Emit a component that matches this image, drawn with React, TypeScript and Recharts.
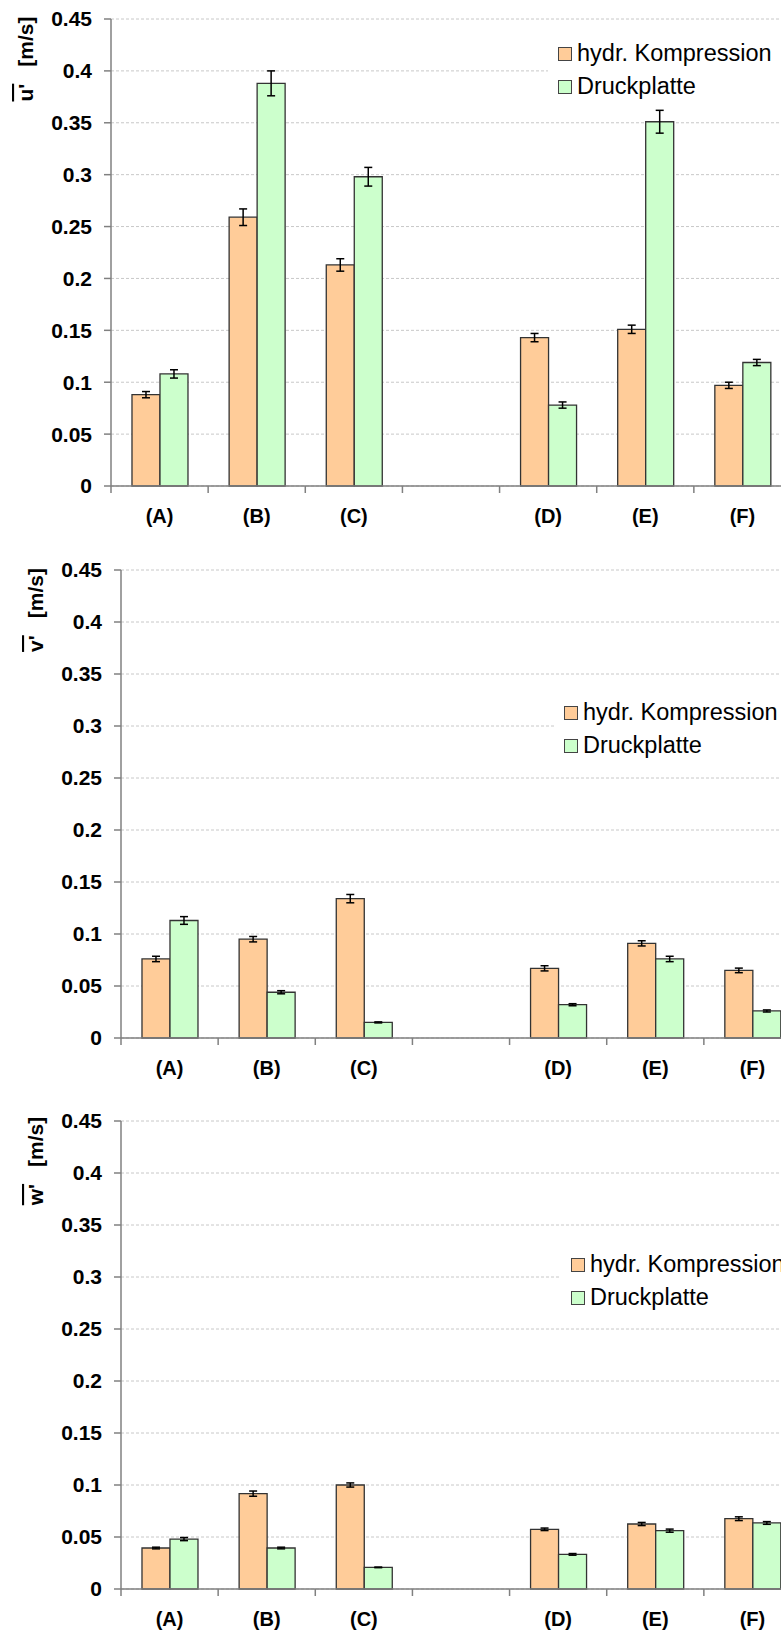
import React from 'react';
import { BarChart, Bar, XAxis, YAxis, CartesianGrid, ErrorBar, Legend } from 'recharts';

const categories = ['(A)', '(B)', '(C)', '', '(D)', '(E)', '(F)'];
const seriesNames = ['hydr. Kompression', 'Druckplatte'];
const seriesColors = ['#FFCC99', '#CCFFCC'];
const yTicks = [0, 0.05, 0.1, 0.15, 0.2, 0.25, 0.3, 0.35, 0.4, 0.45];

// u'
const uHydr = [0.088, 0.259, 0.213, null, 0.143, 0.151, 0.097];
const uHydrErr = [0.003, 0.008, 0.006, null, 0.004, 0.004, 0.003];
const uDruck = [0.108, 0.388, 0.298, null, 0.078, 0.351, 0.119];
const uDruckErr = [0.004, 0.012, 0.009, null, 0.003, 0.011, 0.003];
// v'
const vHydr = [0.076, 0.095, 0.134, null, 0.067, 0.091, 0.065];
const vHydrErr = [0.0026, 0.0026, 0.004, null, 0.0025, 0.0025, 0.0022];
const vDruck = [0.113, 0.044, 0.015, null, 0.032, 0.076, 0.026];
const vDruckErr = [0.0037, 0.0015, 0.0005, null, 0.001, 0.0026, 0.001];
// w'
const wHydr = [0.0394, 0.0917, 0.1, null, 0.0574, 0.0625, 0.0676];
const wHydrErr = [0.0008, 0.0025, 0.002, null, 0.0012, 0.0015, 0.0018];
const wDruck = [0.048, 0.0394, 0.0208, null, 0.0333, 0.0561, 0.0635];
const wDruckErr = [0.0015, 0.0008, 0.0003, null, 0.0008, 0.0015, 0.0013];

const FONT = "'Liberation Sans', Arial, sans-serif";
const AXIS = '#808080';

function XTick(props: any) {
  const { x, y, payload, band } = props;
  const bx = x - band / 2;
  return (
    <g>
      <line x1={bx} x2={bx} y1={y} y2={y + 7} stroke={AXIS} strokeWidth={1.5} />
      <text x={x} y={y + 37} textAnchor="middle" fontFamily={FONT} fontWeight="bold" fontSize={20} fill="#000">
        {payload.value}
      </text>
    </g>
  );
}

function YLabel({ viewBox, sym }: any) {
  if (!viewBox) return null;
  const cx = viewBox.x + viewBox.width - 78;
  const cy = viewBox.y + 40;
  return (
    <text x={cx} y={cy} transform={`rotate(-90 ${cx} ${cy})`} textAnchor="middle"
      fontFamily={FONT} fontWeight="bold" fontSize={21} fill="#000">
      <tspan style={{ textDecoration: 'overline' }}>{sym}</tspan>
      <tspan dx={17}>[m/s]</tspan>
    </text>
  );
}

function LegendBox() {
  return (
    <div style={{ background: '#fff', padding: '4px 0 4px 10px', fontFamily: FONT, fontSize: 23.5, color: '#000' }}>
      {seriesNames.map((n, i) => (
        <div key={n} style={{ display: 'flex', alignItems: 'center', height: 33, whiteSpace: 'nowrap' }}>
          <span style={{ display: 'inline-block', flex: 'none', width: 12, height: 12, background: seriesColors[i], border: '1.5px solid #444', marginRight: 5 }} />
          {n}
        </div>
      ))}
    </div>
  );
}

interface PanelProps {
  top: number; height: number; marginTop: number; axisWidth: number; xAxisHeight: number;
  hydr: (number | null)[]; hydrErr: (number | null)[]; druck: (number | null)[]; druckErr: (number | null)[];
  sym: string; legendLeft: number; legendTop: number;
}

function Panel(p: PanelProps) {
  const width = p.axisWidth + 680;
  const band = (width - p.axisWidth) / categories.length;
  const data = categories.map((c, i) => ({
    cat: c, hydr: p.hydr[i], hydrErr: p.hydrErr[i], druck: p.druck[i], druckErr: p.druckErr[i],
  }));
  return (
    <div style={{ position: 'absolute', left: 0, top: p.top }}>
      <BarChart width={width} height={p.height} data={data} barCategoryGap="21.6%" barGap={0}
        margin={{ top: p.marginTop, right: 0, bottom: 0, left: 0 }}>
        <CartesianGrid vertical={false} stroke="#c8c8c8" strokeDasharray="3 2" />
        <XAxis dataKey="cat" height={p.xAxisHeight} interval={0} tickSize={0} tickMargin={0} tickLine={false}
          axisLine={{ stroke: AXIS, strokeWidth: 1.5 }} tick={(t: any) => <XTick {...t} band={band} />} />
        <YAxis domain={[0, 0.45]} ticks={yTicks} width={p.axisWidth} tickSize={7} tickMargin={12}
          tickFormatter={(v: number) => String(v)}
          tick={{ fill: '#000', fontSize: 21, fontWeight: 'bold', fontFamily: FONT }}
          tickLine={{ stroke: AXIS, strokeWidth: 1.5 }} axisLine={{ stroke: AXIS, strokeWidth: 1.5 }}
          label={{ content: (lp: any) => <YLabel viewBox={lp.viewBox} sym={p.sym} /> }} />
        <Legend layout="vertical" align="center" verticalAlign="middle" content={() => <LegendBox />}
          wrapperStyle={{ left: p.legendLeft, top: p.legendTop, width: 260 }} />
        <Bar dataKey="hydr" name={seriesNames[0]} fill={seriesColors[0]} stroke="#333" strokeWidth={1.3} isAnimationActive={false}>
          <ErrorBar dataKey="hydrErr" width={4} stroke="#000" strokeWidth={1.5} direction="y" />
        </Bar>
        <Bar dataKey="druck" name={seriesNames[1]} fill={seriesColors[1]} stroke="#333" strokeWidth={1.3} isAnimationActive={false}>
          <ErrorBar dataKey="druckErr" width={4} stroke="#000" strokeWidth={1.5} direction="y" />
        </Bar>
      </BarChart>
    </div>
  );
}

export default function App() {
  return (
    <div style={{ position: 'absolute', left: 0, top: 0, width: 781, height: 1634, overflow: 'hidden', background: '#fff' }}>
      <Panel top={0} height={545} marginTop={19} axisWidth={111} xAxisHeight={59}
        hydr={uHydr} hydrErr={uHydrErr} druck={uDruck} druckErr={uDruckErr}
        sym="u'" legendLeft={548} legendTop={33} />
      <Panel top={545} height={550} marginTop={25} axisWidth={121} xAxisHeight={57}
        hydr={vHydr} hydrErr={vHydrErr} druck={vDruck} druckErr={vDruckErr}
        sym="v'" legendLeft={554} legendTop={147} />
      <Panel top={1095} height={539} marginTop={26} axisWidth={121} xAxisHeight={45}
        hydr={wHydr} hydrErr={wHydrErr} druck={wDruck} druckErr={wDruckErr}
        sym="w'" legendLeft={561} legendTop={149} />
    </div>
  );
}
